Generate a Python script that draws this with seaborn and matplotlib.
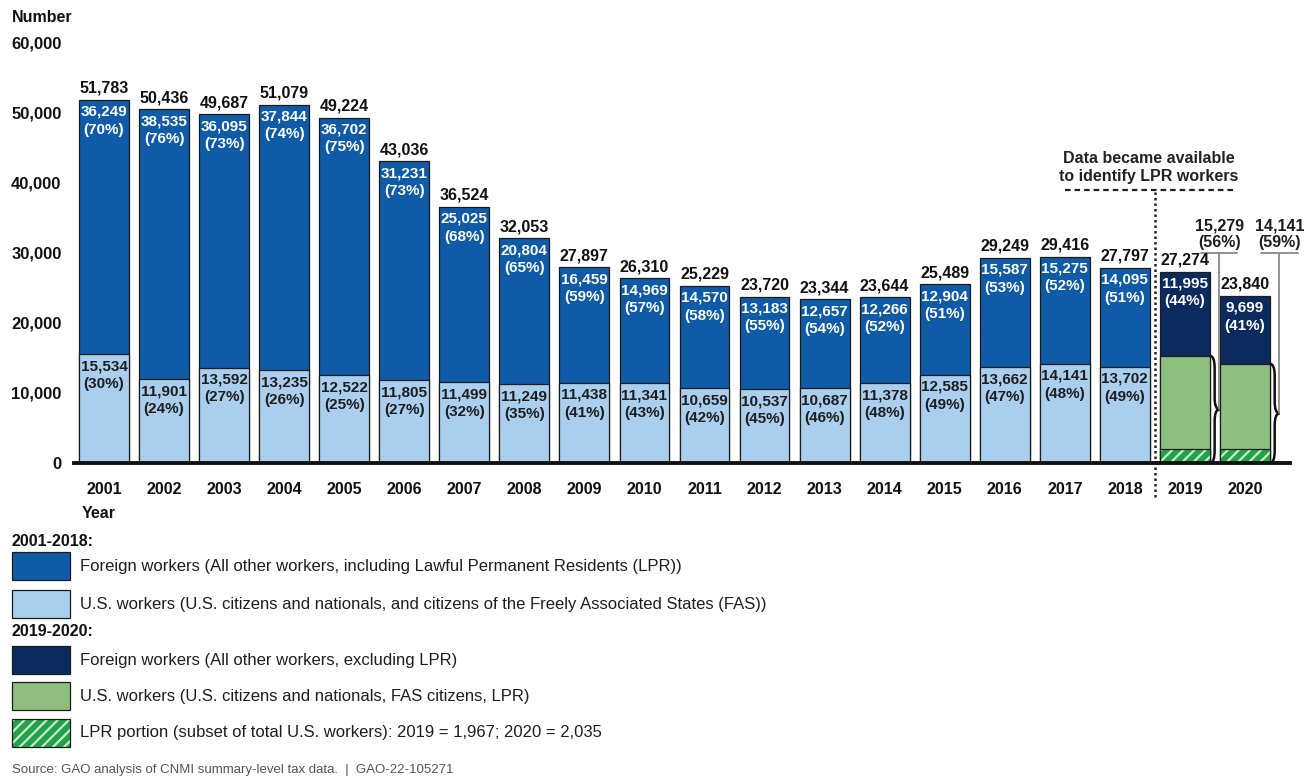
import numpy as np
import pandas as pd
import matplotlib
matplotlib.use("Agg")
import matplotlib.pyplot as plt
import seaborn as sns
from matplotlib.patches import Rectangle
from matplotlib.path import Path
from matplotlib.patches import PathPatch

# ------------------------------
# Data
# ------------------------------
years = [str(y) for y in range(2001, 2021)]
total = [51783, 50436, 49687, 51079, 49224, 43036, 36524, 32053, 27897, 26310,
         25229, 23720, 23344, 23644, 25489, 29249, 29416, 27797, 27274, 23840]
foreign = [36249, 38535, 36095, 37844, 36702, 31231, 25025, 20804, 16459, 14969,
           14570, 13183, 12657, 12266, 12904, 15587, 15275, 14095, 11995, 9699]
foreign_pct = [70, 76, 73, 74, 75, 73, 68, 65, 59, 57, 58, 55, 54, 52, 51, 53, 52, 51, 44, 41]
us = [15534, 11901, 13592, 13235, 12522, 11805, 11499, 11249, 11438, 11341,
      10659, 10537, 10687, 11378, 12585, 13662, 14141, 13702, 15279, 14141]
us_pct = [30, 24, 27, 26, 25, 27, 32, 35, 41, 43, 42, 45, 46, 48, 49, 47, 48, 49, 56, 59]
lpr_years = ["2019", "2020"]
lpr = [1967, 2035]
yticks = [0, 10000, 20000, 30000, 40000, 50000, 60000]

# colours
BLUE = "#0F5BA7"
LIGHT = "#A9CEEE"
NAVY = "#0B2B5F"
GREEN = "#8EBF80"
LPR_GREEN = "#23A24B"
EDGE = "#1c1c1c"

sns.set_theme(style="white")
plt.rcParams["font.family"] = ["Liberation Sans", "DejaVu Sans"]
plt.rcParams["hatch.linewidth"] = 1.6

W, H = 1312, 778
fig = plt.figure(figsize=(W / 100, H / 100), dpi=100)
fig.patch.set_facecolor("white")


def fx(px):
    return px / W


def fy(py):
    return 1 - py / H


ax = fig.add_axes([fx(74), fy(463), fx(1290 - 74), 421 / H])

df = pd.DataFrame({"year": years, "total": total, "us": us})
n_new = len(years) - len(lpr_years)
fg_colors = [BLUE] * n_new + [NAVY] * len(lpr_years)
us_colors = [LIGHT] * n_new + [GREEN] * len(lpr_years)
BW = 0.83

# total bars (foreign on top), then U.S. part over them
sns.barplot(data=df, x="year", y="total", hue="year", palette=fg_colors, legend=False,
            saturation=1, width=BW, edgecolor=EDGE, linewidth=0.9, ax=ax)
sns.barplot(data=df, x="year", y="us", hue="year", palette=us_colors, legend=False,
            saturation=1, width=BW, edgecolor=EDGE, linewidth=0.9, ax=ax)

# LPR portion, hatched
n_before = len(ax.patches)
df_lpr = pd.DataFrame({"year": lpr_years, "lpr": lpr})
sns.barplot(data=df_lpr, x="year", y="lpr", order=years, color=LPR_GREEN,
            saturation=1, width=BW, ax=ax)
for p in ax.patches[n_before:]:
    p.set_hatch("///")
    p.set_edgecolor("#c9ecc9")
    p.set_linewidth(0)
    ax.add_patch(Rectangle(p.get_xy(), p.get_width(), p.get_height(), fill=False,
                           edgecolor=EDGE, linewidth=0.9))

ax.set_ylim(0, 60000)
ax.set_xlim(-0.5, 19.75)
ax.set_xlabel("")
ax.set_ylabel("")
ax.set_yticks(yticks)
ax.set_yticklabels([f"{v:,}" for v in yticks], fontsize=12, fontweight="bold", color="#111")
ax.set_xticks(range(len(years)))
ax.set_xticklabels(years, fontsize=11.5, fontweight="bold", color="#111")
ax.tick_params(axis="y", length=0, pad=9)
ax.tick_params(axis="x", length=0, pad=14)
for s in ["left", "top", "right"]:
    ax.spines[s].set_visible(False)
ax.spines["bottom"].set_linewidth(2.8)
ax.spines["bottom"].set_color("#111")
ax.grid(False)

# ------------------------------
# value labels
# ------------------------------
for i in range(len(years)):
    ax.annotate(f"{total[i]:,}", (i, total[i]), xytext=(0, 4), textcoords="offset pixels",
                ha="center", va="bottom", fontsize=11.5, fontweight="bold", color="#111")
    ax.annotate(f"{foreign[i]:,}\n({foreign_pct[i]}%)", (i, total[i]), xytext=(0, -5),
                textcoords="offset pixels", ha="center", va="top", fontsize=11,
                fontweight="bold", color="white", linespacing=1.35)
    if i < n_new:
        ax.annotate(f"{us[i]:,}\n({us_pct[i]}%)", (i, us[i]), xytext=(0, -5),
                    textcoords="offset pixels", ha="center", va="top", fontsize=11,
                    fontweight="bold", color="#1e1e1e", linespacing=1.35)

# braces + outside labels for 2019-2020
d = 0.16
r = 1700
y_under = 30000
for i in range(n_new, len(years)):
    xr = i + BW / 2
    y1, y0 = us[i], 0
    ym = (y1 + y0) / 2
    xm = xr + d / 2
    verts = [(xr, y1), (xm, y1), (xm, y1 - r), (xm, ym + r), (xm, ym), (xr + d, ym),
             (xm, ym), (xm, ym - r), (xm, y0 + r), (xm, y0), (xr, y0)]
    codes = [Path.MOVETO, Path.CURVE3, Path.CURVE3, Path.LINETO, Path.CURVE3, Path.CURVE3,
             Path.CURVE3, Path.CURVE3, Path.LINETO, Path.CURVE3, Path.CURVE3]
    ax.add_patch(PathPatch(Path(verts, codes), fill=False, edgecolor="#111", linewidth=1.8,
                           clip_on=False))
    xt = xr + d
    ax.plot([xt, xt], [ym, y_under], color="#8a8a8a", lw=1.3, clip_on=False)
    ax.plot([xt - 0.3, xt + 0.3], [y_under, y_under], color="#8a8a8a", lw=1.3, clip_on=False)
    ax.annotate(f"{us[i]:,}\n({us_pct[i]}%)", (xt, y_under), xytext=(0, 3),
                textcoords="offset pixels", ha="center", va="bottom", fontsize=11.5,
                fontweight="bold", color="#1e1e1e", linespacing=1.1, annotation_clip=False)

# divider between 2018 and 2019
ax.plot([17.5, 17.5], [-4800, 38900], color="#222", lw=1.8, ls=(0, (1, 1.2)), clip_on=False)
ax.plot([16.0, 18.8], [38900, 38900], color="#222", lw=1.6, ls=(0, (2.5, 1.8)), clip_on=False)
ax.text(17.4, 39700, "Data became available\nto identify LPR workers", ha="center", va="bottom",
        fontsize=11.5, fontweight="bold", color="#222", linespacing=1.3)

# axis titles
fig.text(fx(12), fy(17), "Number", ha="left", va="center", fontsize=11.5, fontweight="bold",
         color="#111")
fig.text(fx(82), fy(513), "Year", ha="left", va="center", fontsize=11.5, fontweight="bold",
         color="#111")

# ------------------------------
# legend (built by hand)
# ------------------------------
headers = [("2001-2018:", 541), ("2019-2020:", 632)]
for txt, yy in headers:
    fig.text(fx(12), fy(yy), txt, ha="left", va="center", fontsize=11.5, fontweight="bold",
             color="#111")

legend_rows = [
    (BLUE, "", "Foreign workers (All other workers, including Lawful Permanent Residents (LPR))", 566),
    (LIGHT, "", "U.S. workers (U.S. citizens and nationals, and citizens of the Freely Associated States (FAS))", 604),
    (NAVY, "", "Foreign workers (All other workers, excluding LPR)", 660),
    (GREEN, "", "U.S. workers (U.S. citizens and nationals, FAS citizens, LPR)", 696),
    (LPR_GREEN, "///", "LPR portion (subset of total U.S. workers): 2019 = 1,967; 2020 = 2,035", 733),
]
for col, hatch, label, yy in legend_rows:
    box = Rectangle((fx(12), fy(yy + 14)), fx(58), 28 / H, transform=fig.transFigure,
                    facecolor=col, edgecolor="#c9ecc9" if hatch else EDGE,
                    linewidth=0 if hatch else 0.9, hatch=hatch or None)
    fig.add_artist(box)
    if hatch:
        fig.add_artist(Rectangle((fx(12), fy(yy + 14)), fx(58), 28 / H,
                                 transform=fig.transFigure, fill=False,
                                 edgecolor=EDGE, linewidth=0.9))
    fig.text(fx(80), fy(yy), label, ha="left", va="center", fontsize=12, color="#1e1e1e")

fig.text(fx(12), fy(770), "Source: GAO analysis of CNMI summary-level tax data.  |  GAO-22-105271",
         ha="left", va="center", fontsize=9.5, color="#555")

fig.savefig("out.png", dpi=100, facecolor="white")
